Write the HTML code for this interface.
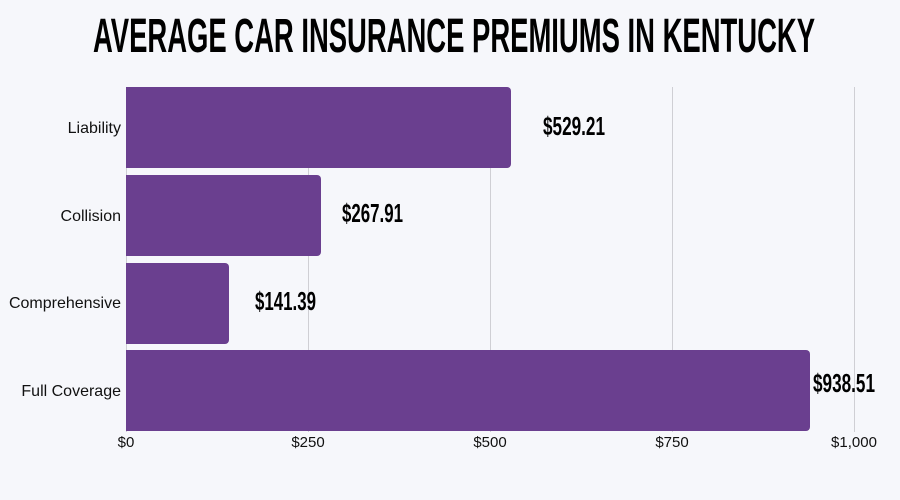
<!DOCTYPE html>
<html><head><meta charset="utf-8"><style>
html,body{margin:0;padding:0;background:#f6f7fb;}
svg{display:block;}
</style></head><body>
<svg width="900" height="500" viewBox="0 0 900 500" xmlns="http://www.w3.org/2000/svg">
<rect width="900" height="500" fill="#f6f7fb"/>
<text x="93" y="52" font-family="'Liberation Sans Narrow','Liberation Sans',sans-serif" font-weight="bold" font-size="48" textLength="722" lengthAdjust="spacingAndGlyphs" fill="#000">AVERAGE CAR INSURANCE PREMIUMS IN KENTUCKY</text>
<g stroke="#cfcfd4" stroke-width="1">
<line x1="126.5" y1="87" x2="126.5" y2="432"/>
<line x1="308.5" y1="87" x2="308.5" y2="432"/>
<line x1="490.5" y1="87" x2="490.5" y2="432"/>
<line x1="672.5" y1="87" x2="672.5" y2="432"/>
<line x1="854.5" y1="87" x2="854.5" y2="432"/>
</g>
<g fill="#6a3f8f">
<path d="M126 87 H507 a4 4 0 0 1 4 4 V164 a4 4 0 0 1 -4 4 H126 Z"/>
<path d="M126 175 H317 a4 4 0 0 1 4 4 V252 a4 4 0 0 1 -4 4 H126 Z"/>
<path d="M126 263 H225 a4 4 0 0 1 4 4 V340 a4 4 0 0 1 -4 4 H126 Z"/>
<path d="M126 350 H806 a4 4 0 0 1 4 4 V427 a4 4 0 0 1 -4 4 H126 Z"/>
</g>
<g font-family="'Liberation Sans',sans-serif" font-size="16" fill="#111" text-anchor="end">
<text x="121" y="133">Liability</text>
<text x="121" y="221">Collision</text>
<text x="121" y="308">Comprehensive</text>
<text x="121" y="396">Full Coverage</text>
</g>
<g font-family="'Liberation Sans',sans-serif" font-size="15" fill="#111" text-anchor="middle">
<text x="126" y="447">$0</text>
<text x="308" y="447">$250</text>
<text x="490" y="447">$500</text>
<text x="672" y="447">$750</text>
<text x="854" y="447">$1,000</text>
</g>
<g font-family="'Liberation Sans Narrow','Liberation Sans',sans-serif" font-weight="bold" font-size="26" fill="#000">
<text x="543" y="135" textLength="62" lengthAdjust="spacingAndGlyphs">$529.21</text>
<text x="342" y="222" textLength="61" lengthAdjust="spacingAndGlyphs">$267.91</text>
<text x="255" y="310" textLength="61" lengthAdjust="spacingAndGlyphs">$141.39</text>
<text x="813" y="392" textLength="62" lengthAdjust="spacingAndGlyphs">$938.51</text>
</g>
</svg>
</body></html>
